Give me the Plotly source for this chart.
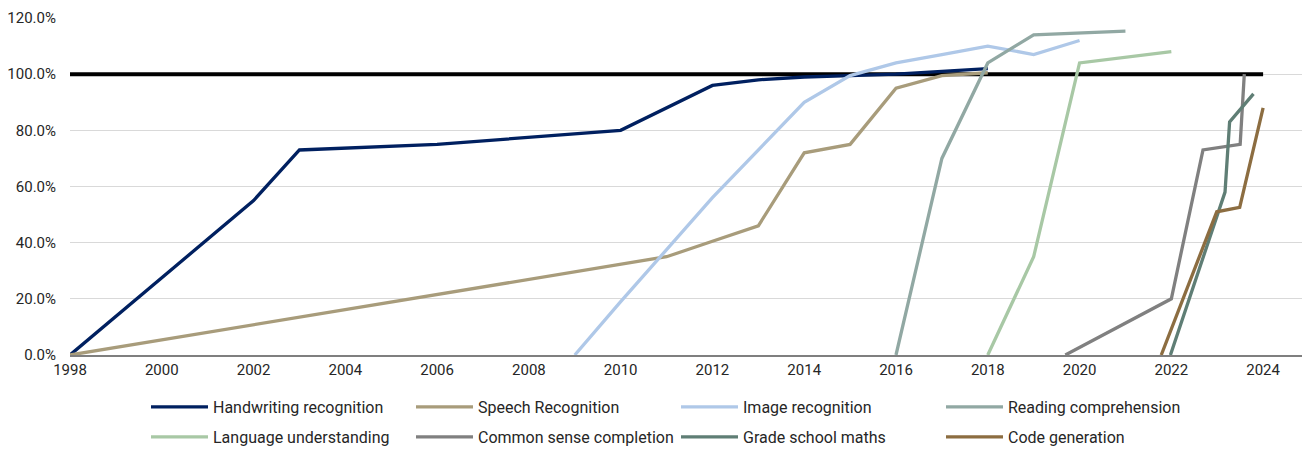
import plotly.graph_objects as go

# ---- data (year, % of human performance) ----
hand_x = [1998, 2002, 2003, 2006, 2010, 2012, 2013, 2014, 2015, 2016, 2017, 2018]
hand_y = [0, 55, 73, 75, 80, 96, 98, 99, 99.5, 100, 101, 102]

speech_x = [1998, 2011, 2012, 2013, 2014, 2015, 2016, 2017, 2018]
speech_y = [0, 35, 40.5, 46, 72, 75, 95, 99.5, 100.5]

image_x = [2009, 2010, 2012, 2014, 2015, 2016, 2017, 2018, 2019, 2020]
image_y = [0, 19, 56, 90, 99.5, 104, 107, 110, 107, 112]

reading_x = [2016, 2017, 2018, 2019, 2021]
reading_y = [0, 70, 104, 114, 115.3]

lang_x = [2018, 2019, 2020, 2022]
lang_y = [0, 35, 104, 108]

common_x = [2019.69, 2022.0, 2022.69, 2023.5, 2023.59]
common_y = [0, 20, 73, 75, 100]

maths_x = [2021.98, 2023.17, 2023.27, 2023.79]
maths_y = [0, 58, 83, 93]

code_x = [2021.78, 2022.99, 2023.49, 2024.0]
code_y = [0, 51, 52.6, 88]

human_x = [1998, 2024]
human_y = [100, 100]

x_ticks = list(range(1998, 2025, 2))
y_ticks = [0, 20, 40, 60, 80, 100, 120]

series = [
    ("Handwriting recognition", hand_x, hand_y, "#002060", "legend"),
    ("Speech Recognition", speech_x, speech_y, "#A89C7B", "legend"),
    ("Image recognition", image_x, image_y, "#AFC8E8", "legend"),
    ("Reading comprehension", reading_x, reading_y, "#91A8A3", "legend"),
    ("Language understanding", lang_x, lang_y, "#A8C8A5", "legend2"),
    ("Common sense completion", common_x, common_y, "#808080", "legend2"),
    ("Grade school maths", maths_x, maths_y, "#5F7E75", "legend2"),
    ("Code generation", code_x, code_y, "#8C6D41", "legend2"),
]

FONT = "Roboto"
TXT = "#262626"

fig = go.Figure()
fig.add_trace(go.Scatter(x=human_x, y=human_y, mode="lines",
                         line=dict(color="#000000", width=4),
                         showlegend=False, hoverinfo="skip"))
for name, xs, ys, col, lg in series:
    fig.add_trace(go.Scatter(x=xs, y=ys, mode="lines", name=name,
                             line=dict(color=col, width=3.3),
                             legend=lg))

# page body adds an 8px offset, so the figure is sized to fit the window
OFF = 8
W, H = 1310 - OFF, 449 - OFF
ml, mr, mt, mb = 70 - OFF, 1, 18 - OFF, 94

def cx(px):
    return px / W

def cy(py):
    return 1 - py / H

legend_common = dict(
    orientation="h", xanchor="left", yanchor="middle",
    xref="container", yref="container",
    font=dict(family=FONT, size=16, color=TXT),
    entrywidth=193, entrywidthmode="pixels",
    itemwidth=57, bgcolor="rgba(0,0,0,0)", borderwidth=0,
)

fig.update_layout(
    width=W, height=H,
    margin=dict(l=ml, r=mr, t=mt, b=mb, autoexpand=False),
    paper_bgcolor="white", plot_bgcolor="white",
    font=dict(family=FONT, size=15, color=TXT),
    xaxis=dict(range=[1998, 2025], tickvals=x_ticks,
               ticktext=[str(v) for v in x_ticks],
               showgrid=False, zeroline=False,
               showline=True, linecolor="#7F7F7F", linewidth=2,
               ticks="", ticklen=0,
               tickfont=dict(family=FONT, size=15, color=TXT)),
    yaxis=dict(range=[0, 120], tickvals=y_ticks,
               ticktext=[f"{v:.1f}%" for v in y_ticks],
               showgrid=True, gridcolor="#D9D9D9", gridwidth=1,
               zeroline=False, showline=False,
               ticks="outside", ticklen=10, tickcolor="rgba(0,0,0,0)",
               tickfont=dict(family=FONT, size=15, color=TXT)),
    legend=dict(x=cx(138), y=cy(407 - OFF), **legend_common),
    legend2=dict(x=cx(138), y=cy(437 - OFF), **legend_common),
)

fig.write_html("out.html")
